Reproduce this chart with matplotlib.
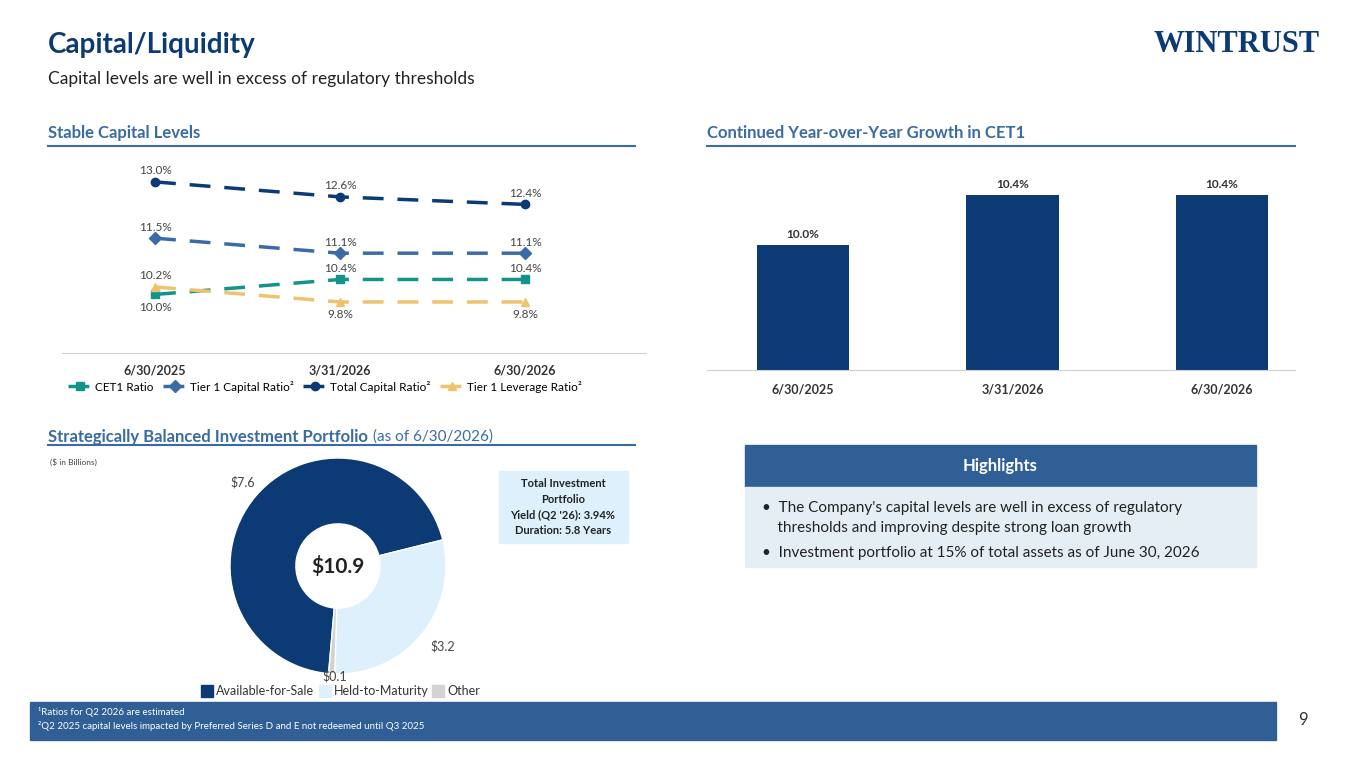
import matplotlib.pyplot as plt
from matplotlib.patches import Rectangle

plt.rcParams['font.family'] = ['Lato', 'DejaVu Sans']

NAVY = "#0B3A75"
MID = "#3A6BA5"
TEAL = "#12948A"
GOLD = "#EEC36E"
LIGHT = "#DDF0FC"
GRAY = "#D3D3D3"
BAND = "#2F5F95"

dates = ["6/30/2025", "3/31/2026", "6/30/2026"]
cet1 = [10.0, 10.4, 10.4]
tier1 = [11.5, 11.1, 11.1]
total = [13.0, 12.6, 12.4]
lever = [10.2, 9.8, 9.8]
cet1_bars = [10.0, 10.4, 10.4]
pie_vals = [7.6, 3.2, 0.1]
pie_labels = ["Available-for-Sale", "Held-to-Maturity", "Other"]

W, H = 1365, 768
fig = plt.figure(figsize=(13.65, 7.68), dpi=100)
def fx(x): return x / W
def fy(y): return 1 - y / H

fig.text(fx(48), fy(45), "Capital/Liquidity", fontsize=20, fontweight="bold", color=NAVY, va="center")
fig.text(fx(48), fy(79), "Capital levels are well in excess of regulatory thresholds", fontsize=12.5, color="#222222", va="center")
fig.text(fx(1320), fy(45), "WINTRUST", fontsize=22, color=NAVY, ha="right", va="center", family="Liberation Serif", fontweight="bold")

def header(x0, x1, y, txt):
    fig.text(fx(x0), fy(y), txt, fontsize=12, fontweight="bold", color=MID, va="center")
    fig.add_artist(plt.Line2D([fx(x0), fx(x1)], [fy(y + 13)] * 2, color=MID, lw=1.5))
header(48, 635, 133, "Stable Capital Levels")
header(707, 1295, 133, "Continued Year-over-Year Growth in CET1")
fig.text(fx(48), fy(437), "Strategically Balanced Investment Portfolio", fontsize=12, fontweight="bold", color=MID, va="center")
fig.text(fx(373), fy(437), "(as of 6/30/2026)", fontsize=11, color=MID, va="center")
fig.add_artist(plt.Line2D([fx(48), fx(635)], [fy(445)] * 2, color=MID, lw=1.5))

# line chart
ax = fig.add_axes([fx(62), fy(353), fx(646 - 62), (353 - 165) / H])
x = [0, 1, 2]
series = [(cet1, TEAL, "s", "CET1 Ratio"), (tier1, MID, "D", "Tier 1 Capital Ratio²"),
          (total, NAVY, "o", "Total Capital Ratio²"), (lever, GOLD, "^", "Tier 1 Leverage Ratio²")]
for vals, c, m, lab in series:
    ax.plot(x, vals, color=c, marker=m, ms=6, lw=2.5, dashes=(6, 4), label=lab)
ax.set_xlim(-0.503, 2.654)
ax.set_ylim(8.44, 13.45)
for i in x:
    ax.text(i, total[i] + 0.15, f"{total[i]:.1f}%", ha="center", va="bottom", fontsize=8.5, color="#444")
    ax.text(i, tier1[i] + 0.15, f"{tier1[i]:.1f}%", ha="center", va="bottom", fontsize=8.5, color="#444")
    if i == 0:
        ax.text(i, lever[i] + 0.15, "10.2%", ha="center", va="bottom", fontsize=8.5, color="#444")
        ax.text(i, cet1[i] - 0.2, "10.0%", ha="center", va="top", fontsize=8.5, color="#444")
    else:
        ax.text(i, cet1[i] + 0.15, f"{cet1[i]:.1f}%", ha="center", va="bottom", fontsize=8.5, color="#444")
        ax.text(i, lever[i] - 0.2, f"{lever[i]:.1f}%", ha="center", va="top", fontsize=8.5, color="#444")
ax.set_xticks(x)
ax.set_xticklabels(dates, fontsize=9, fontweight="bold", color="#333")
ax.tick_params(length=0, pad=8)
ax.set_yticks([])
for s in ["top", "right", "left"]:
    ax.spines[s].set_visible(False)
ax.spines["bottom"].set_color("#D0D0D0")
ax.legend(loc="upper center", bbox_to_anchor=(0.45, -0.09), ncol=4, frameon=False, fontsize=8.5,
          handlelength=2, columnspacing=0.8, handletextpad=0.3)

# bar chart
bx = fig.add_axes([fx(707), fy(370), fx(1295 - 707), (370 - 170) / H])
bx.bar(x, cet1_bars, width=0.44, color=NAVY)
bx.set_ylim(9.0, 10.6)
bx.set_xlim(-0.458, 2.348)
for i, v in zip(x, cet1_bars):
    bx.text(i, v + 0.04, f"{v:.1f}%", ha="center", va="bottom", fontsize=8.5, fontweight="bold", color="#333")
bx.set_xticks(x)
bx.set_xticklabels(dates, fontsize=9, fontweight="bold", color="#333")
bx.tick_params(length=0, pad=10)
bx.set_yticks([])
for s in ["top", "right", "left"]:
    bx.spines[s].set_visible(False)
bx.spines["bottom"].set_color("#D0D0D0")

# pie
px = fig.add_axes([fx(230), fy(674), fx(216), 216 / H])
px.pie(pie_vals, colors=[NAVY, LIGHT, GRAY], startangle=265, counterclock=False, radius=1,
       wedgeprops=dict(width=0.61, edgecolor="white", lw=1))
px.set_xlim(-1, 1)
px.set_ylim(-1, 1)
px.set_aspect("equal")
px.text(0, 0, "$10.9", ha="center", va="center", fontsize=15, fontweight="bold", color="#222")
fig.text(fx(230), fy(482), "$7.6", fontsize=9, color="#444", va="center")
fig.text(fx(430), fy(646), "$3.2", fontsize=9, color="#444", va="center")
fig.text(fx(322), fy(676), "$0.1", fontsize=9, color="#444", va="center")
fig.text(fx(50), fy(462), "($ in Billions)", fontsize=6, color="#444", va="center")
lx = 201
for lab, c in zip(pie_labels, [NAVY, LIGHT, GRAY]):
    fig.add_artist(Rectangle((fx(lx), fy(697)), fx(12), 12 / H, color=c))
    fig.text(fx(lx + 15), fy(691), lab, fontsize=9, color="#333", va="center")
    lx += {"Available-for-Sale": 118, "Held-to-Maturity": 113}.get(lab, 0)

fig.add_artist(Rectangle((fx(499), fy(543)), fx(129), 72 / H, color="#DDF0FC"))
fig.text(fx(563), fy(507), "Total Investment\nPortfolio\nYield (Q2 '26): 3.94%\nDuration: 5.8 Years",
         ha="center", va="center", fontsize=8, fontweight="bold", color="#222", linespacing=1.5)

# highlights
fig.add_artist(Rectangle((fx(745), fy(487)), fx(511), 42 / H, color=BAND))
fig.text(fx(1000), fy(466), "Highlights", ha="center", va="center", fontsize=12, fontweight="bold", color="white")
fig.add_artist(Rectangle((fx(745), fy(567)), fx(511), 80 / H, color="#E6EEF5"))
fig.text(fx(762), fy(518), "•  The Company's capital levels are well in excess of regulatory\n    thresholds and improving despite strong loan growth",
         fontsize=11, color="#222", va="center", linespacing=1.5)
fig.text(fx(762), fy(553), "•  Investment portfolio at 15% of total assets as of June 30, 2026",
         fontsize=11, color="#222", va="center")

# footer
fig.add_artist(Rectangle((fx(30), fy(740)), fx(1246), 38 / H, color=BAND))
fig.text(fx(38), fy(712), "¹Ratios for Q2 2026 are estimated", fontsize=7, color="white", va="center")
fig.text(fx(38), fy(726), "²Q2 2025 capital levels impacted by Preferred Series D and E not redeemed until Q3 2025",
         fontsize=7, color="white", va="center")
fig.text(fx(1303), fy(720), "9", fontsize=12, color="#333", ha="center", va="center")

fig.savefig("out.png", dpi=100)
